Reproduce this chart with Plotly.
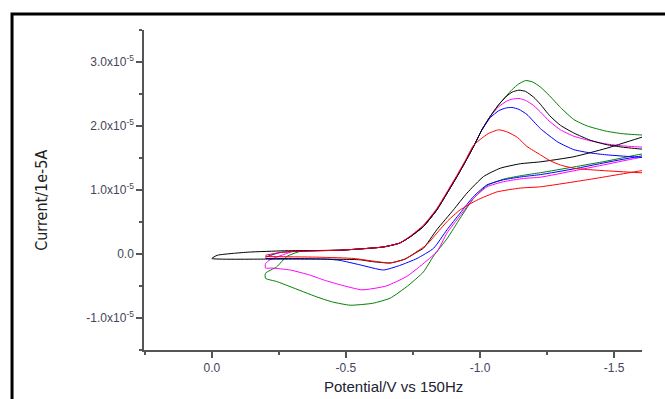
import plotly.graph_objects as go

# Potential (V) and current (units of 1e-5 A), forward and reverse branches
black_fwd_E = [0.00, -0.02, -0.08, -0.14, -0.27, -0.48, -0.64, -0.70, -0.740, -0.789, -0.839, -0.877, -0.914, -0.945, -0.976, -1.007, -1.038, -1.069, -1.10, -1.12, -1.145, -1.17, -1.20, -1.225, -1.26, -1.30, -1.35, -1.41, -1.47, -1.53, -1.60, -1.65]
black_fwd_I = [-0.07, -0.02, 0.01, 0.03, 0.05, 0.06, 0.11, 0.17, 0.27, 0.43, 0.69, 0.95, 1.21, 1.44, 1.68, 1.94, 2.15, 2.33, 2.47, 2.53, 2.56, 2.54, 2.45, 2.34, 2.16, 2.01, 1.89, 1.78, 1.71, 1.67, 1.64, 1.63]
black_rev_E = [-1.65, -1.60, -1.47, -1.35, -1.225, -1.15, -1.075, -1.013, -0.951, -0.901, -0.839, -0.789, -0.765, -0.72, -0.665, -0.60, -0.55, -0.40, -0.20, 0.00]
black_rev_I = [1.88, 1.82, 1.65, 1.52, 1.44, 1.41, 1.34, 1.21, 0.95, 0.69, 0.38, 0.09, 0.03, -0.08, -0.14, -0.12, -0.09, -0.08, -0.08, -0.07]

red_fwd_E = [-0.20, -0.25, -0.30, -0.48, -0.64, -0.70, -0.740, -0.789, -0.839, -0.877, -0.914, -0.945, -0.976, -1.007, -1.03, -1.069, -1.10, -1.14, -1.175, -1.225, -1.26, -1.30, -1.35, -1.40, -1.47, -1.60, -1.65]
red_fwd_I = [-0.02, 0.02, 0.04, 0.06, 0.11, 0.17, 0.28, 0.45, 0.71, 0.97, 1.23, 1.46, 1.70, 1.81, 1.88, 1.94, 1.91, 1.82, 1.68, 1.55, 1.46, 1.39, 1.34, 1.32, 1.30, 1.27, 1.27]
red_rev_E = [-1.65, -1.60, -1.40, -1.225, -1.15, -1.063, -0.988, -0.926, -0.88, -0.84, -0.80, -0.765, -0.72, -0.665, -0.60, -0.53, -0.40, -0.20]
red_rev_I = [1.33, 1.30, 1.16, 1.05, 1.03, 0.97, 0.84, 0.69, 0.52, 0.33, 0.14, 0.04, -0.08, -0.14, -0.11, -0.07, -0.05, -0.04]

blue_fwd_E = [-0.20, -0.25, -0.30, -0.48, -0.64, -0.70, -0.740, -0.789, -0.839, -0.877, -0.914, -0.945, -0.976, -1.007, -1.038, -1.07, -1.095, -1.119, -1.145, -1.175, -1.225, -1.29, -1.35, -1.41, -1.47, -1.60, -1.65]
blue_fwd_I = [-0.05, 0.02, 0.04, 0.06, 0.11, 0.17, 0.27, 0.43, 0.69, 0.95, 1.21, 1.44, 1.68, 1.94, 2.13, 2.24, 2.28, 2.29, 2.26, 2.18, 1.96, 1.75, 1.63, 1.58, 1.55, 1.51, 1.50]
blue_rev_E = [-1.65, -1.60, -1.47, -1.35, -1.225, -1.162, -1.088, -1.026, -0.976, -0.926, -0.877, -0.827, -0.765, -0.70, -0.64, -0.553, -0.478, -0.43, -0.30, -0.20]
blue_rev_I = [1.55, 1.53, 1.43, 1.33, 1.24, 1.21, 1.16, 1.08, 0.90, 0.64, 0.38, 0.09, -0.07, -0.18, -0.25, -0.17, -0.10, -0.08, -0.07, -0.07]

magenta_fwd_E = [-0.20, -0.20, -0.217, -0.254, -0.304, -0.48, -0.64, -0.70, -0.740, -0.789, -0.839, -0.877, -0.914, -0.945, -0.976, -1.007, -1.038, -1.069, -1.10, -1.12, -1.145, -1.17, -1.20, -1.225, -1.26, -1.30, -1.35, -1.41, -1.47, -1.53, -1.60, -1.65]
magenta_fwd_I = [-0.22, -0.15, -0.09, -0.03, 0.04, 0.06, 0.11, 0.17, 0.27, 0.43, 0.69, 0.95, 1.21, 1.44, 1.68, 1.94, 2.15, 2.30, 2.39, 2.42, 2.43, 2.40, 2.32, 2.22, 2.07, 1.94, 1.84, 1.77, 1.72, 1.69, 1.67, 1.66]
magenta_rev_E = [-1.65, -1.60, -1.47, -1.35, -1.225, -1.162, -1.088, -1.026, -0.976, -0.926, -0.877, -0.84, -0.78, -0.727, -0.65, -0.56, -0.478, -0.42, -0.366, -0.292, -0.224, -0.20]
magenta_rev_I = [1.53, 1.51, 1.40, 1.30, 1.20, 1.18, 1.13, 1.05, 0.87, 0.60, 0.33, 0.04, -0.18, -0.35, -0.50, -0.56, -0.48, -0.41, -0.33, -0.25, -0.22, -0.22]

green_fwd_E = [-0.20, -0.20, -0.242, -0.279, -0.329, -0.48, -0.64, -0.70, -0.740, -0.789, -0.839, -0.877, -0.914, -0.945, -0.976, -1.007, -1.038, -1.069, -1.10, -1.12, -1.145, -1.17, -1.195, -1.225, -1.26, -1.30, -1.35, -1.40, -1.47, -1.53, -1.60, -1.65]
green_fwd_I = [-0.38, -0.30, -0.20, -0.04, 0.04, 0.06, 0.11, 0.17, 0.27, 0.43, 0.69, 0.95, 1.21, 1.44, 1.68, 1.94, 2.15, 2.33, 2.48, 2.57, 2.66, 2.71, 2.69, 2.61, 2.47, 2.29, 2.10, 2.00, 1.92, 1.88, 1.86, 1.85]
green_rev_E = [-1.65, -1.60, -1.47, -1.35, -1.225, -1.162, -1.088, -1.026, -0.976, -0.926, -0.877, -0.827, -0.789, -0.73, -0.665, -0.60, -0.516, -0.45, -0.391, -0.292, -0.242, -0.20]
green_rev_I = [1.58, 1.56, 1.45, 1.36, 1.27, 1.23, 1.17, 1.07, 0.87, 0.56, 0.24, -0.03, -0.28, -0.50, -0.69, -0.77, -0.80, -0.75, -0.67, -0.51, -0.43, -0.38]

x_tick_vals = [0.0, -0.5, -1.0, -1.5]
x_tick_text = ["0.0", "-0.5", "-1.0", "-1.5"]
y_tick_vals = [-1, 0, 1, 2, 3]
y_tick_text = ["-1.0x10<sup>-5</sup>", "0.0", "1.0x10<sup>-5</sup>", "2.0x10<sup>-5</sup>", "3.0x10<sup>-5</sup>"]

series = [
    ("green", "#008000", green_fwd_E, green_fwd_I, green_rev_E, green_rev_I),
    ("magenta", "#ff00ff", magenta_fwd_E, magenta_fwd_I, magenta_rev_E, magenta_rev_I),
    ("blue", "#0000ff", blue_fwd_E, blue_fwd_I, blue_rev_E, blue_rev_I),
    ("black", "#000000", black_fwd_E, black_fwd_I, black_rev_E, black_rev_I),
    ("red", "#ff0000", red_fwd_E, red_fwd_I, red_rev_E, red_rev_I),
]

fig = go.Figure()
for name, color, fe, fi, re_, ri in series:
    fig.add_trace(go.Scatter(
        x=fe + re_, y=fi + ri, mode="lines", name=name,
        line=dict(color=color, width=1, shape="spline", smoothing=0.5),
        showlegend=False, hoverinfo="skip",
    ))

label_font = dict(family="Liberation Sans, Arial, sans-serif", size=12, color="#44445a")
axis_col = "#555555"

fig.update_layout(
    width=665, height=399,
    margin=dict(l=144, r=23, t=30, b=49),
    paper_bgcolor="white", plot_bgcolor="white",
    xaxis=dict(
        range=[0.253, -1.604], showgrid=False, zeroline=False,
        showline=True, linecolor=axis_col, linewidth=1.5,
        ticks="outside", ticklen=6, tickwidth=1.5, tickcolor=axis_col,
        tickmode="array", tickvals=x_tick_vals, ticktext=x_tick_text,
        tickfont=label_font,
        minor=dict(ticks="outside", ticklen=3, tickwidth=1.5, tickcolor=axis_col,
                   tickmode="array", tickvals=[0.25, -0.25, -0.75, -1.25]),
    ),
    yaxis=dict(
        range=[-1.5, 3.5], showgrid=False, zeroline=False,
        showline=True, linecolor=axis_col, linewidth=1.5,
        ticks="outside", ticklen=6, tickwidth=1.5, tickcolor=axis_col,
        tickmode="array", tickvals=y_tick_vals, ticktext=y_tick_text,
        tickfont=label_font,
        minor=dict(ticks="outside", ticklen=3, tickwidth=1.5, tickcolor=axis_col,
                   tickmode="array", tickvals=[-1.5, -0.5, 0.5, 1.5, 2.5, 3.5]),
    ),
    shapes=[dict(type="rect", xref="paper", yref="paper",
                 x0=-0.265, x1=1.1, y0=-0.3, y1=1.05,
                 line=dict(color="black", width=3), fillcolor="rgba(0,0,0,0)",
                 layer="above")],
    annotations=[
        dict(text="Current/1e-5A", xref="paper", yref="paper",
             x=-0.205, y=0.469, xanchor="center", yanchor="middle",
             textangle=-90, showarrow=False,
             font=dict(family="Liberation Sans Narrow, DejaVu Sans Condensed, Arial Narrow, sans-serif",
                       size=16, color="#222222")),
        dict(text="Potential/V vs 150Hz", xref="paper", yref="paper",
             x=0.5, y=-0.1125, xanchor="center", yanchor="middle",
             showarrow=False,
             font=dict(family="Liberation Sans, Arial, sans-serif", size=15, color="#222233")),
    ],
)

fig.write_html("out.html")
